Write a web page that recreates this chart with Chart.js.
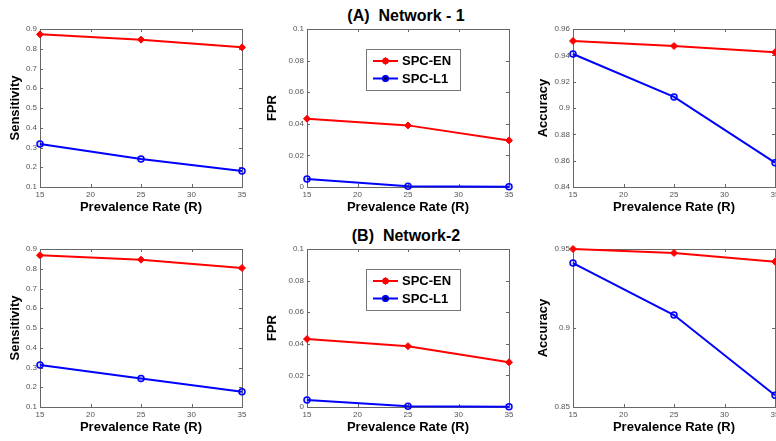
<!DOCTYPE html>
<html>
<head>
<meta charset="utf-8">
<script src="https://cdn.jsdelivr.net/npm/chart.js@4.4.0/dist/chart.umd.min.js"></script>
<style>
body{margin:0;background:#fff;width:776px;height:441px;overflow:hidden;position:relative;font-family:"Liberation Sans",Arial,sans-serif}
canvas{position:absolute}
.titulo{position:absolute;font-weight:bold;font-size:16px;line-height:16px;white-space:pre;transform:translate(-50%,-50%);color:#000}
</style>
</head>
<body>
<div class="titulo" style="left:406px;top:16px">(A)  Network - 1</div>
<div class="titulo" style="left:406px;top:236px">(B)  Network-2</div>
<canvas id="g1"></canvas>
<canvas id="g2"></canvas>
<canvas id="g3"></canvas>
<canvas id="g4"></canvas>
<canvas id="g5"></canvas>
<canvas id="g6"></canvas>
<script>
// datos
const prevalencia = [15, 25, 35];

const sensEN_1 = [0.873, 0.846, 0.807];
const sensL1_1 = [0.318, 0.242, 0.181];
const fprEN_1 = [0.0432, 0.039, 0.0295];
const fprL1_1 = [0.005, 0.0004, 0.0001];
const accEN_1 = [0.9509, 0.9471, 0.9423];
const accL1_1 = [0.941, 0.9084, 0.8585];

const sensEN_2 = [0.868, 0.846, 0.804];
const sensL1_2 = [0.313, 0.244, 0.177];
const fprEN_2 = [0.043, 0.0385, 0.0283];
const fprL1_2 = [0.0044, 0.0004, 0.0001];
const accEN_2 = [0.950, 0.9475, 0.942];
const accL1_2 = [0.9411, 0.9082, 0.8574];

const ticksSens = {min: 0.1, max: 0.9, step: 0.1};
const ticksFpr = {min: 0, max: 0.1, step: 0.02};
const ticksAcc1 = {min: 0.84, max: 0.96, step: 0.02};
const ticksAcc2 = {min: 0.85, max: 0.95, step: 0.05};

Chart.defaults.font.family = '"Liberation Sans", Arial, sans-serif';

// caja estilo matlab con ticks hacia adentro
const cajaEjes = {
    id: 'cajaEjes',
    beforeDatasetsDraw(chart) {
        const {ctx, chartArea: a, scales: {x, y}} = chart;
        ctx.save();
        ctx.strokeStyle = '#666';
        ctx.lineWidth = 1;
        ctx.strokeRect(a.left + 0.5, a.top + 0.5, a.right - a.left, a.bottom - a.top);
        ctx.beginPath();
        x.ticks.forEach(t => {
            const px = Math.round(x.getPixelForValue(t.value)) + 0.5;
            ctx.moveTo(px, a.bottom); ctx.lineTo(px, a.bottom - 3);
            ctx.moveTo(px, a.top); ctx.lineTo(px, a.top + 3);
        });
        y.ticks.forEach(t => {
            const py = Math.round(y.getPixelForValue(t.value)) + 0.5;
            ctx.moveTo(a.left, py); ctx.lineTo(a.left + 3, py);
            ctx.moveTo(a.right, py); ctx.lineTo(a.right - 3, py);
        });
        ctx.stroke();
        ctx.restore();
    }
};

// leyenda dentro del grafico (solo FPR)
const leyenda = {
    id: 'leyenda',
    afterDatasetsDraw(chart) {
        const {ctx, chartArea: a} = chart;
        const bx = a.left + 59, by = a.top + 20, bw = 94, bh = 41;
        ctx.save();
        ctx.fillStyle = '#fff';
        ctx.fillRect(bx, by, bw, bh);
        ctx.strokeStyle = '#777';
        ctx.lineWidth = 1;
        ctx.strokeRect(bx + 0.5, by + 0.5, bw, bh);
        chart.data.datasets.forEach((ds, i) => {
            const yy = by + 12 + i * 17.5;
            ctx.strokeStyle = ds.borderColor;
            ctx.lineWidth = 2;
            ctx.beginPath();
            ctx.moveTo(bx + 7, yy); ctx.lineTo(bx + 32, yy);
            ctx.stroke();
            Chart.helpers.drawPoint(ctx, {pointStyle: ds.pointStyle, radius: 2.5, borderWidth: 1.5}, bx + 19.5, yy);
            ctx.fillStyle = ds.pointBackgroundColor;
            ctx.strokeStyle = ds.borderColor;
            ctx.lineWidth = 1.5;
            ctx.beginPath();
            ctx.arc(bx + 19.5, yy, 2.5, 0, Math.PI * 2);
            ctx.fill(); ctx.stroke();
            ctx.fillStyle = '#000';
            ctx.font = 'bold 13px "Liberation Sans", Arial, sans-serif';
            ctx.textBaseline = 'middle';
            ctx.fillText(ds.label, bx + 36, yy + 0.5);
        });
        ctx.restore();
    }
};

const paneles = [
    {id: 'g1', l: 40, t: 29, yW: 32, titulo: 'Sensitivity', rango: ticksSens, en: sensEN_1, l1: sensL1_1},
    {id: 'g2', l: 307, t: 29, yW: 42, titulo: 'FPR', rango: ticksFpr, en: fprEN_1, l1: fprL1_1, ley: true},
    {id: 'g3', l: 573, t: 29, yW: 37, titulo: 'Accuracy', rango: ticksAcc1, en: accEN_1, l1: accL1_1},
    {id: 'g4', l: 40, t: 249, yW: 32, titulo: 'Sensitivity', rango: ticksSens, en: sensEN_2, l1: sensL1_2},
    {id: 'g5', l: 307, t: 249, yW: 42, titulo: 'FPR', rango: ticksFpr, en: fprEN_2, l1: fprL1_2, ley: true},
    {id: 'g6', l: 573, t: 249, yW: 37, titulo: 'Accuracy', rango: ticksAcc2, en: accEN_2, l1: accL1_2}
];

const anchoPlot = 202, altoPlot = 158, altoX = 28;

paneles.forEach(p => {
    const canvas = document.getElementById(p.id);
    canvas.width = anchoPlot + p.yW + 10;
    canvas.height = altoPlot + 10 + altoX;
    canvas.style.left = (p.l - p.yW) + 'px';
    canvas.style.top = (p.t - 10) + 'px';

    const puntos = arr => arr.map((v, i) => ({x: prevalencia[i], y: v}));

    new Chart(canvas.getContext('2d'), {
        type: 'line',
        data: {
            datasets: [{
                label: 'SPC-EN',
                data: puntos(p.en),
                borderColor: '#ff0000',
                backgroundColor: '#ff0000',
                pointBackgroundColor: '#ff0000',
                pointBorderColor: '#ff0000',
                pointStyle: 'rectRot',
                pointRadius: 3.5,
                pointBorderWidth: 1,
                borderWidth: 2,
                tension: 0,
                clip: false
            }, {
                label: 'SPC-L1',
                data: puntos(p.l1),
                borderColor: '#0000ff',
                backgroundColor: '#0000ff',
                pointBackgroundColor: 'rgba(0,0,255,0.15)',
                pointBorderColor: '#0000ff',
                pointStyle: 'circle',
                pointRadius: 3,
                pointBorderWidth: 1.5,
                borderWidth: 2,
                tension: 0,
                clip: false
            }]
        },
        options: {
            responsive: false,
            animation: false,
            events: [],
            layout: {padding: {top: 10, right: 10, left: 0, bottom: 0}},
            plugins: {legend: {display: false}, tooltip: {enabled: false}},
            scales: {
                x: {
                    type: 'linear',
                    min: 15,
                    max: 35,
                    grid: {display: false, drawTicks: false},
                    border: {display: false},
                    ticks: {stepSize: 5, padding: 3, color: '#555', font: {size: 8}, maxRotation: 0},
                    title: {display: true, text: 'Prevalence Rate (R)', color: '#000', font: {size: 13, weight: 'bold'}, padding: 0},
                    afterFit: s => { s.height = altoX; }
                },
                y: {
                    min: p.rango.min,
                    max: p.rango.max,
                    grid: {display: false, drawTicks: false},
                    border: {display: false},
                    ticks: {
                        stepSize: p.rango.step,
                        padding: 3,
                        color: '#555',
                        font: {size: 8},
                        callback: v => String(+v.toFixed(3))
                    },
                    title: {display: true, text: p.titulo, color: '#000', font: {size: 13, weight: 'bold'}, padding: 0},
                    afterFit: s => { s.width = p.yW; }
                }
            }
        },
        plugins: p.ley ? [cajaEjes, leyenda] : [cajaEjes]
    });
});
</script>
</body>
</html>
